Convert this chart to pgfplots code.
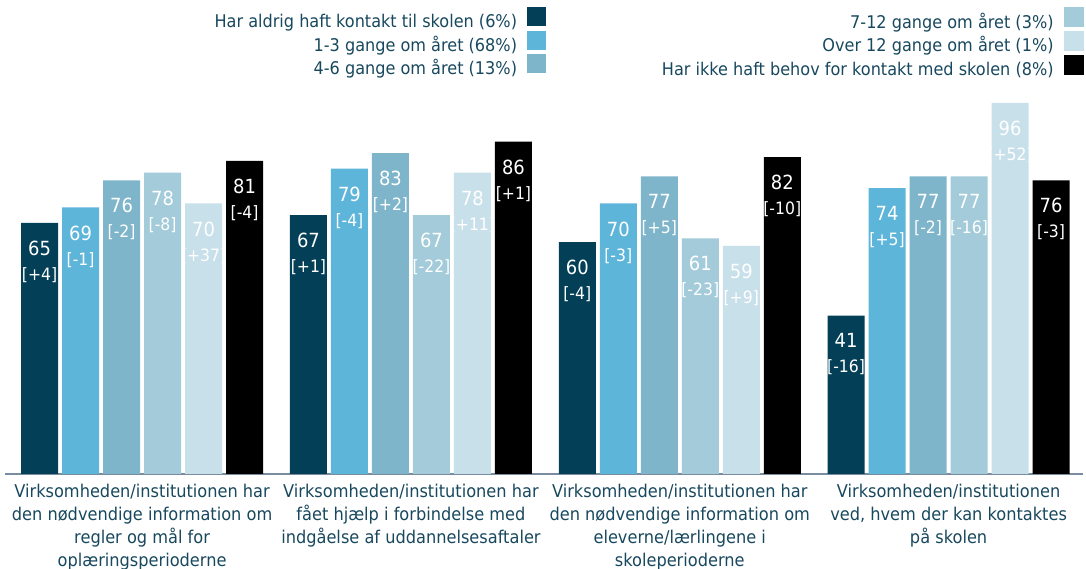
\documentclass[border=0pt]{standalone}
\usepackage{pgfplots}
\pgfplotsset{compat=1.18}
\usepackage{pgfplotstable}
\usepackage{fontspec}
\setmainfont{DejaVu Sans}
\newfontfamily\cfont{DejaVu Sans}[FakeStretch=0.92]
\definecolor{cA}{RGB}{3,63,86}
\definecolor{cB}{RGB}{94,181,218}
\definecolor{cC}{RGB}{126,181,202}
\definecolor{cD}{RGB}{163,203,218}
\definecolor{cE}{RGB}{200,224,234}
\definecolor{cF}{RGB}{0,0,0}
\definecolor{txt}{RGB}{24,72,94}
\definecolor{axc}{RGB}{122,140,160}

\pgfplotstableread{
x y d
0 65 +4
1 67 +1
2 60 -4
3 41 -16
}\tA
\pgfplotstableread{
x y d
0 69 -1
1 79 -4
2 70 -3
3 74 +5
}\tB
\pgfplotstableread{
x y d
0 76 -2
1 83 +2
2 77 +5
3 77 -2
}\tC
\pgfplotstableread{
x y d
0 78 -8
1 67 -22
2 61 -23
3 77 -16
}\tD
\pgfplotstableread{
x y d
0 70 +37
1 78 +11
2 59 +9
3 96 +52
}\tE
\pgfplotstableread{
x y d
0 81 -4
1 86 +1
2 82 -10
3 76 -3
}\tF

\pgfplotsset{
  sq/.style={legend image code/.code={\fill[#1] (0pt,-4pt) rectangle (19pt,15pt);}},
  commonax/.style={
    scale only axis, width=1078pt, height=386.46pt,
    xmin=-0.51, xmax=3.5, ymin=0, ymax=100,
  },
  legsty/.style={
    legend plot pos=right,
    legend cell align=right,
    legend style={anchor=north east, draw=none, fill=none, inner sep=0pt, outer sep=0pt,
      font=\cfont\fontsize{17.5}{21}\selectfont, text=txt,
      column sep=10pt, row sep=-1pt,
      nodes={inner sep=0pt, text height=15pt, text depth=4pt}},
  },
}

\begin{document}
\begin{tikzpicture}
\begin{axis}[commonax, name=ax,
  ybar=4pt, bar width=37pt,
  axis y line=none, axis x line=bottom,
  x axis line style={draw=axc, line width=2.5pt, -},
  xtick={0,1,2,3}, major tick length=0pt, ytick=\empty,
  xticklabels={{Virksomheden/institutionen har\\den nødvendige information om\\regler og mål for\\oplæringsperioderne},
    {Virksomheden/institutionen har\\fået hjælp i forbindelse med\\indgåelse af uddannelsesaftaler},
    {Virksomheden/institutionen har\\den nødvendige information om\\eleverne/lærlingene i\\skoleperioderne},
    {Virksomheden/institutionen\\ved, hvem der kan kontaktes\\på skolen}},
  xticklabel style={font=\cfont\fontsize{17.6}{23}\selectfont, text=txt, align=center, anchor=north, inner sep=0pt, yshift=-10pt},
  legsty, legend style={at={(0.5019,1.2071)}},
  point meta=explicit symbolic,
  visualization depends on={y \as \yv},
  nodes near coords={\fontsize{19.5}{25}\selectfont\pgfmathprintnumber[fixed,precision=0,assume math mode=true]{\yv}\\{}\fontsize{17}{25}\selectfont[\pgfplotspointmeta]},
  every node near coord/.append style={font=\cfont\fontsize{17}{25}\selectfont, text=white, anchor=north, inner sep=0pt, align=center, yshift=-18pt},
  clip=false,
]
\addplot[fill=cA, draw=none, sq=cA] table[x=x,y=y,meta=d] {\tA};
\addlegendentry{Har aldrig haft kontakt til skolen (6\%)}
\addplot[fill=cB, draw=none, sq=cB] table[x=x,y=y,meta=d] {\tB};
\addlegendentry{1-3 gange om året (68\%)}
\addplot[fill=cC, draw=none, sq=cC] table[x=x,y=y,meta=d] {\tC};
\addlegendentry{4-6 gange om året (13\%)}
\addplot[fill=cD, draw=none] table[x=x,y=y,meta=d] {\tD};
\addplot[fill=cE, draw=none] table[x=x,y=y,meta=d] {\tE};
\addplot[fill=cF, draw=none] table[x=x,y=y,meta=d] {\tF};
\end{axis}
\begin{axis}[commonax, hide axis, legsty, legend style={at={(1.0,1.2071)}}]
\addlegendimage{sq=cD}
\addlegendentry{7-12 gange om året (3\%)}
\addlegendimage{sq=cE}
\addlegendentry{Over 12 gange om året (1\%)}
\addlegendimage{sq=cF}
\addlegendentry{Har ikke haft behov for kontakt med skolen (8\%)}
\end{axis}
\pgfresetboundingbox
\path[use as bounding box] ([xshift=-5pt,yshift=-95pt]ax.south west) rectangle ([xshift=3pt,yshift=87.54pt]ax.north east);
\end{tikzpicture}
\end{document}
